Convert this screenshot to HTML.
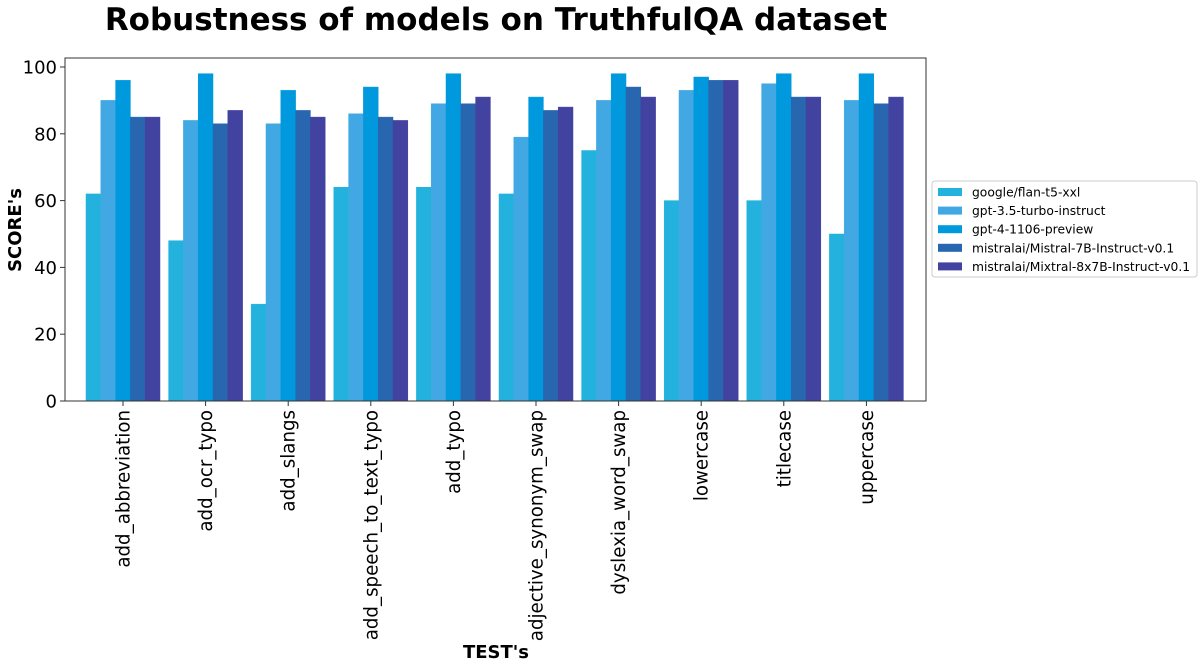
<!DOCTYPE html>
<html><head><meta charset="utf-8"><style>
body{margin:0;background:#fff;width:1200px;height:666px;overflow:hidden;font-family:"DejaVu Sans","Liberation Sans",sans-serif}
</style></head><body>
<svg id="chart" width="1200" height="666" xmlns="http://www.w3.org/2000/svg" font-family="DejaVu Sans, Liberation Sans, sans-serif">
<text x="496" y="30" text-anchor="middle" font-size="31" font-weight="bold">Robustness of models on TruthfulQA dataset</text>
<text transform="translate(21,230) rotate(-90)" text-anchor="middle" font-size="18" font-weight="bold">SCORE's</text>
<text x="496" y="658" text-anchor="middle" font-size="18" font-weight="bold">TEST's</text>
<g id="bars"></g><g id="axes"></g>
<g>
<rect x="932" y="181" width="265" height="96" rx="3" fill="#fff" stroke="#ccc"/>
<g id="legend"></g></g>
</svg>
<script>
const categories=["add_abbreviation","add_ocr_typo","add_slangs","add_speech_to_text_typo","add_typo","adjective_synonym_swap","dyslexia_word_swap","lowercase","titlecase","uppercase"];
const seriesNames=["google/flan-t5-xxl","gpt-3.5-turbo-instruct","gpt-4-1106-preview","mistralai/Mistral-7B-Instruct-v0.1","mistralai/Mixtral-8x7B-Instruct-v0.1"];
const flan=[62,48,29,64,64,62,75,60,60,50];
const gpt35=[90,84,83,86,89,79,90,93,95,90];
const gpt4=[96,98,93,94,98,91,98,97,98,98];
const mistral=[85,83,87,85,89,87,94,96,91,89];
const mixtral=[85,87,85,84,91,88,91,96,91,91];
const yTicks=[0,20,40,60,80,100];
const series=[flan,gpt35,gpt4,mistral,mixtral];
const colors=["#23b2dd","#42a8e3","#0099dd","#2866b0","#4242a0"];
const NS="http://www.w3.org/2000/svg";
const L=65,R=926,T=58,B=401;
const y=v=>401-v*3.34;
const step=82.6,x0=123,bw=14.8;
const xc=i=>x0+i*step;
function el(tag,attrs,parent){const e=document.createElementNS(NS,tag);for(const k in attrs)e.setAttribute(k,attrs[k]);parent.appendChild(e);return e;}
const bars=document.getElementById('bars'),axes=document.getElementById('axes'),leg=document.getElementById('legend');
series.forEach((s,si)=>{s.forEach((v,i)=>{
const r=el('rect',{x:xc(i)+(si-2.5)*bw,y:y(v),width:bw,height:y(0)-y(v),fill:colors[si],stroke:colors[si],'stroke-width':0.5},bars);


});});
const frame=el('rect',{x:L,y:T,width:R-L,height:B-T,fill:'none',stroke:'#333','stroke-width':1},axes);


yTicks.forEach(t=>{
el('line',{x1:L-5,x2:L,y1:y(t),y2:y(t),stroke:'#333'},axes);
const tx=el('text',{x:L-8,y:y(t)+6.5,'text-anchor':'end','font-size':18},axes);tx.textContent=t;


});
categories.forEach((c,i)=>{
el('line',{x1:xc(i),x2:xc(i),y1:B,y2:B+5,stroke:'#333'},axes);
const tx=el('text',{transform:`translate(${xc(i)+6.5},${B+9}) rotate(-90)`,'text-anchor':'end','font-size':18.2},axes);tx.textContent=c;


});
seriesNames.forEach((n,i)=>{
const yy=192+i*18.6;
const sw=el('rect',{x:938,y:yy-4,width:24,height:8,fill:colors[i]},leg);


const tx=el('text',{x:972,y:yy+4.5,'font-size':12.3},leg);tx.textContent=n;


});
</script>
</body></html>
